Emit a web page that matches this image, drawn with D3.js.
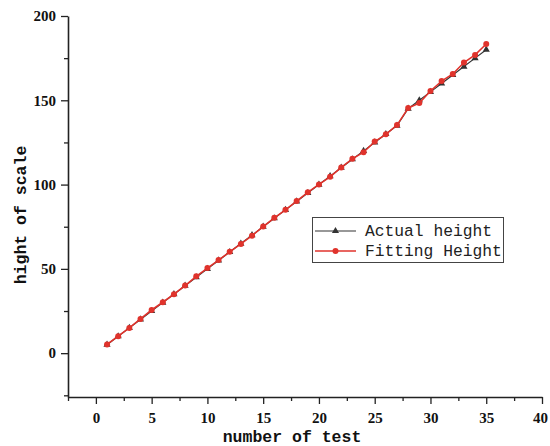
<!DOCTYPE html>
<html>
<head>
<meta charset="utf-8">
<script src="https://cdn.jsdelivr.net/npm/d3@7"></script>
<style>
  body { margin: 0; background: #fff; }
  svg { display: block; }
</style>
</head>
<body>
<div id="chart"></div>
<script>
// test number 1..35
const tests = d3.range(1, 36);
const actualHeight = [5, 10, 15, 20, 25, 30, 35, 40, 45, 50, 55, 60, 65, 70, 75, 80, 85, 90,
  95, 100, 105, 110, 115, 120, 125, 130, 135, 145, 150, 155, 160, 165, 170, 175, 180];
const fittingHeight = [5.2, 10.1, 15, 20.3, 25.6, 30.2, 35, 40.1, 45.6, 50.5, 55.2, 60.1, 64.8,
  69.7, 75.1, 80.3, 85, 90.2, 95.4, 100.1, 104.6, 110.2, 115.3, 119.2, 125.5, 129.8, 135.3,
  145.4, 148.4, 155.5, 161.4, 165.6, 172.4, 176.9, 183.4];
const xTicks = [0, 5, 10, 15, 20, 25, 30, 35, 40];
const yTicks = [0, 50, 100, 150, 200];
const seriesNames = ["Actual height", "Fitting Height"];

const W = 550, H = 446;
const mLeft = 68, mRight = 542, mTop = 16, mBottom = 397;

const svg = d3.select("#chart").append("svg")
  .attr("width", W).attr("height", H);

const x = d3.scaleLinear().domain([-2.5, 40]).range([mLeft, mRight]);
const y = d3.scaleLinear().domain([-26, 200]).range([mBottom, mTop]);

const tickFont = "'Liberation Serif', 'DejaVu Serif', serif";
const monoFont = "'Liberation Mono', 'DejaVu Sans Mono', monospace";

// minor ticks
const xMinor = d3.range(-2.5, 40, 5);
const yMinor = d3.range(-25, 200, 50).filter(v => v > -26);

svg.append("g")
  .attr("transform", `translate(0,${mBottom})`)
  .call(d3.axisBottom(x).tickValues(xMinor).tickSize(4).tickFormat(""))
  .call(g => g.select(".domain").remove())
  .selectAll("line").attr("stroke", "#222").attr("stroke-width", 1.3);

svg.append("g")
  .attr("transform", `translate(${mLeft},0)`)
  .call(d3.axisLeft(y).tickValues(yMinor).tickSize(4).tickFormat(""))
  .call(g => g.select(".domain").remove())
  .selectAll("line").attr("stroke", "#222").attr("stroke-width", 1.3);

const xAxis = svg.append("g")
  .attr("transform", `translate(0,${mBottom})`)
  .call(d3.axisBottom(x).tickValues(xTicks).tickSize(7).tickSizeOuter(0).tickPadding(8));
const yAxis = svg.append("g")
  .attr("transform", `translate(${mLeft},0)`)
  .call(d3.axisLeft(y).tickValues(yTicks).tickSize(7).tickSizeOuter(0).tickPadding(5));

[xAxis, yAxis].forEach(g => {
  g.select(".domain").attr("stroke", "#222").attr("stroke-width", 1.6);
  g.selectAll(".tick line").attr("stroke", "#222").attr("stroke-width", 1.3);
  g.selectAll("text")
    .attr("font-family", tickFont)
    .attr("font-weight", "bold")
    .attr("font-size", 15)
    .attr("fill", "#111");
});
// keep the last x label inside the frame
xAxis.selectAll(".tick text").filter(d => d === 40).attr("dx", -2);

// axis titles
svg.append("text")
  .attr("x", 292).attr("y", 442)
  .attr("text-anchor", "middle")
  .attr("font-family", monoFont)
  .attr("font-weight", "bold")
  .attr("font-size", 16.5)
  .attr("fill", "#111")
  .text("number of test");

svg.append("text")
  .attr("transform", "translate(26,215) rotate(-90)")
  .attr("text-anchor", "middle")
  .attr("font-family", monoFont)
  .attr("font-weight", "bold")
  .attr("font-size", 16.5)
  .attr("fill", "#111")
  .text("hight of scale");

const black = "#333";
const red = "#e0332c";

const line = d3.line()
  .x((d, i) => x(tests[i]))
  .y(d => y(d));

// Actual height
svg.append("path")
  .datum(actualHeight)
  .attr("fill", "none")
  .attr("stroke", black)
  .attr("stroke-width", 1.2)
  .attr("d", line);

const tri = d3.symbol().type(d3.symbolTriangle).size(22);
svg.append("g").selectAll("path")
  .data(actualHeight)
  .join("path")
  .attr("d", tri)
  .attr("transform", (d, i) => `translate(${x(tests[i])},${y(d)})`)
  .attr("fill", black);

// Fitting height
svg.append("path")
  .datum(fittingHeight)
  .attr("fill", "none")
  .attr("stroke", red)
  .attr("stroke-width", 1.6)
  .attr("d", line);

svg.append("g").selectAll("circle")
  .data(fittingHeight)
  .join("circle")
  .attr("cx", (d, i) => x(tests[i]))
  .attr("cy", d => y(d))
  .attr("r", 3)
  .attr("fill", red);

// legend
const legend = svg.append("g");
legend.append("rect")
  .attr("x", 312.5).attr("y", 217.5)
  .attr("width", 191).attr("height", 45)
  .attr("fill", "#fff")
  .attr("stroke", "#444")
  .attr("stroke-width", 1);

const legendColors = [black, red];
seriesNames.forEach((name, i) => {
  const ly = 231 + i * 20;
  legend.append("line")
    .attr("x1", 315).attr("x2", 356)
    .attr("y1", ly).attr("y2", ly)
    .attr("stroke", legendColors[i])
    .attr("stroke-width", i ? 1.6 : 1.2);
  if (i === 0) {
    legend.append("path")
      .attr("d", tri)
      .attr("transform", `translate(335.5,${ly})`)
      .attr("fill", black);
  } else {
    legend.append("circle")
      .attr("cx", 335.5).attr("cy", ly).attr("r", 3)
      .attr("fill", red);
  }
  legend.append("text")
    .attr("x", 365).attr("y", ly + 5)
    .attr("font-family", monoFont)
    .attr("font-size", 16.3)
    .attr("fill", "#222")
    .text(name);
});
</script>
</body>
</html>
